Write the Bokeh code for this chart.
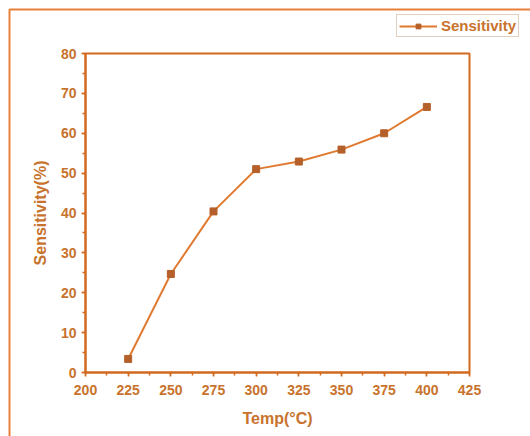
from bokeh.plotting import figure
from bokeh.models import Range1d, SingleIntervalTicker, Legend, LegendItem, BoxAnnotation
from bokeh.embed import file_html
from bokeh.resources import INLINE

temp = [225, 250, 275, 300, 325, 350, 375, 400]
sensitivity = [3.4, 24.7, 40.4, 51.0, 52.9, 55.9, 60.0, 66.6]
x_bounds = (200, 425)
y_bounds = (0, 80)

ORANGE = "#d2691e"
TEXT = "#c8732d"
LINE = "#e07a30"
MARK = "#b5602a"

# frame spans the whole canvas; the plot box is drawn with bounded, fixed axes
W, H = 530, 436
left_px, right_px, top_px, bottom_px = 85, 469, 53, 372
sx = (right_px - left_px) / (x_bounds[1] - x_bounds[0])
sy = (bottom_px - top_px) / (y_bounds[1] - y_bounds[0])
x_range = Range1d(x_bounds[0] - left_px / sx, x_bounds[1] + (W - right_px) / sx)
y_range = Range1d(y_bounds[0] - (H - bottom_px) / sy, y_bounds[1] + top_px / sy)

p = figure(width=W, height=H, output_backend="svg", toolbar_location=None,
           x_range=x_range, y_range=y_range,
           min_border_left=0, min_border_right=0, min_border_top=0, min_border_bottom=0)
p.background_fill_color = "white"
p.border_fill_color = "white"
p.grid.visible = False
p.outline_line_color = None

for ax in (p.xaxis[0], p.yaxis[0]):
    ax.axis_line_color = ORANGE
    ax.axis_line_width = 2
    ax.major_tick_line_color = ORANGE
    ax.minor_tick_line_color = ORANGE
    ax.major_tick_line_width = 1.5
    ax.minor_tick_line_width = 1.5
    ax.major_tick_out = 4
    ax.major_tick_in = 0
    ax.minor_tick_out = 3
    ax.minor_tick_in = 0
    ax.major_label_text_color = TEXT
    ax.major_label_text_font = "Liberation Sans"
    ax.major_label_text_font_style = "bold"
    ax.major_label_text_font_size = "14px"
    ax.axis_label_text_color = TEXT
    ax.axis_label_text_font = "Liberation Sans"
    ax.axis_label_text_font_style = "bold"
    ax.axis_label_text_font_size = "16px"

p.xaxis.fixed_location = y_bounds[0]
p.xaxis.bounds = x_bounds
p.yaxis.fixed_location = x_bounds[0]
p.yaxis.bounds = y_bounds
p.xaxis.ticker = SingleIntervalTicker(interval=25, num_minor_ticks=2)
p.yaxis.ticker = SingleIntervalTicker(interval=10, num_minor_ticks=2)
p.xaxis.axis_label = "Temp(°C)"
p.yaxis.axis_label = "Sensitivity(%)"
p.xaxis.major_label_standoff = 8
p.xaxis.axis_label_standoff = 12
p.yaxis.major_label_standoff = 5
p.yaxis.axis_label_standoff = 9

box = BoxAnnotation(left=x_bounds[0], right=x_bounds[1], bottom=y_bounds[0], top=y_bounds[1],
                    fill_alpha=0, line_color=ORANGE, line_alpha=1, line_width=2, level="underlay")
p.add_layout(box)

ln = p.line(temp, sensitivity, line_color=LINE, line_width=2)
mk = p.scatter(temp, sensitivity, marker="square", size=7, fill_color=MARK, line_color=MARK)

legend = Legend(items=[LegendItem(label="Sensitivity", renderers=[ln, mk])],
                location=(396, 399))
legend.border_line_color = "#c8a080"
legend.border_line_width = 1
legend.background_fill_color = "white"
legend.label_text_color = TEXT
legend.label_text_font = "Liberation Sans"
legend.label_text_font_style = "bold"
legend.label_text_font_size = "15px"
legend.glyph_width = 38
legend.glyph_height = 12
legend.padding = 2
legend.margin = 0
legend.label_standoff = 4
legend.label_height = 12
p.add_layout(legend)

border = BoxAnnotation(left=9, right=600, top=427, bottom=-50,
                       left_units="screen", right_units="screen",
                       top_units="screen", bottom_units="screen",
                       fill_alpha=0, line_color="#e8803a", line_alpha=1, line_width=2)
p.add_layout(border)

open("out.html", "w").write(file_html(p, INLINE))
